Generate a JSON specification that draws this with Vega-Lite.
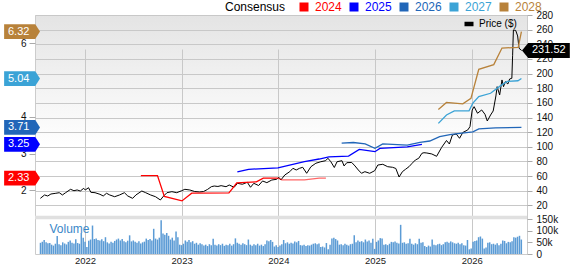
{
"$schema": "https://vega.github.io/schema/vega-lite/v6.json",
"width": 492, "height": 239,
"autosize": {"type": "none"},
"padding": {"left": 35, "top": 15, "right": 46, "bottom": 10},
"config": {
  "font": "Liberation Sans",
  "view": {"stroke": "#cccccc", "fill": {"gradient": "linear", "x1": 0, "y1": 0, "x2": 0, "y2": 1, "stops": [{"offset": 0, "color": "#e4e4e4"}, {"offset": 0.55, "color": "#ffffff"}, {"offset": 1, "color": "#ffffff"}]}},
  "axis": {"labelFont": "Liberation Sans", "labelFontSize": 10, "labelColor": "#111111", "tickColor": "#aaaaaa", "domain": false, "labelOverlap": false}
},
"datasets": {
  "price": [
{"t":2021.539,"p":29.6},{"t":2021.582,"p":34.2},{"t":2021.615,"p":32.8},{"t":2021.648,"p":35.5},{"t":2021.699,"p":36.5},{"t":2021.734,"p":37.3},{"t":2021.767,"p":34.2},{"t":2021.800,"p":37.3},{"t":2021.851,"p":41.9},{"t":2021.886,"p":40.0},{"t":2021.919,"p":41.0},{"t":2021.952,"p":39.6},{"t":2021.987,"p":43.3},{"t":2022.003,"p":41.0},{"t":2022.037,"p":44.1},{"t":2022.061,"p":37.8},{"t":2022.104,"p":37.3},{"t":2022.155,"p":35.1},{"t":2022.189,"p":32.8},{"t":2022.223,"p":36.5},{"t":2022.256,"p":34.2},{"t":2022.307,"p":31.8},{"t":2022.358,"p":34.2},{"t":2022.408,"p":37.3},{"t":2022.443,"p":32.8},{"t":2022.493,"p":29.6},{"t":2022.527,"p":34.2},{"t":2022.588,"p":39.6},{"t":2022.628,"p":37.3},{"t":2022.679,"p":34.2},{"t":2022.730,"p":31.8},{"t":2022.780,"p":27.3},{"t":2022.814,"p":32.8},{"t":2022.848,"p":37.3},{"t":2022.899,"p":38.7},{"t":2022.949,"p":37.3},{"t":2023.000,"p":40.0},{"t":2023.033,"p":41.9},{"t":2023.084,"p":41.0},{"t":2023.135,"p":38.9},{"t":2023.185,"p":38.3},{"t":2023.226,"p":38.9},{"t":2023.267,"p":41.7},{"t":2023.307,"p":45.5},{"t":2023.337,"p":46.4},{"t":2023.375,"p":45.8},{"t":2023.408,"p":46.9},{"t":2023.459,"p":45.5},{"t":2023.492,"p":47.8},{"t":2023.543,"p":44.7},{"t":2023.578,"p":50.1},{"t":2023.628,"p":48.8},{"t":2023.679,"p":51.5},{"t":2023.712,"p":44.7},{"t":2023.746,"p":50.1},{"t":2023.796,"p":47.1},{"t":2023.837,"p":53.3},{"t":2023.881,"p":51.0},{"t":2023.932,"p":54.6},{"t":2023.983,"p":55.6},{"t":2024.006,"p":58.3},{"t":2024.026,"p":54.6},{"t":2024.067,"p":61.5},{"t":2024.118,"p":66.0},{"t":2024.151,"p":70.6},{"t":2024.185,"p":68.3},{"t":2024.219,"p":70.6},{"t":2024.252,"p":72.0},{"t":2024.293,"p":63.8},{"t":2024.337,"p":72.8},{"t":2024.388,"p":77.5},{"t":2024.439,"p":79.6},{"t":2024.489,"p":81.0},{"t":2024.513,"p":84.3},{"t":2024.543,"p":79.6},{"t":2024.579,"p":71.7},{"t":2024.607,"p":79.6},{"t":2024.658,"p":81.0},{"t":2024.680,"p":73.8},{"t":2024.708,"p":78.3},{"t":2024.759,"p":78.6},{"t":2024.793,"p":73.8},{"t":2024.827,"p":68.3},{"t":2024.860,"p":63.8},{"t":2024.895,"p":66.0},{"t":2024.945,"p":63.8},{"t":2024.996,"p":67.3},{"t":2025.029,"p":75.1},{"t":2025.080,"p":76.1},{"t":2025.131,"p":72.8},{"t":2025.181,"p":72.0},{"t":2025.215,"p":70.4},{"t":2025.249,"p":58.7},{"t":2025.283,"p":66.0},{"t":2025.316,"p":69.3},{"t":2025.351,"p":72.8},{"t":2025.384,"p":77.5},{"t":2025.418,"p":82.0},{"t":2025.452,"p":84.3},{"t":2025.485,"p":91.1},{"t":2025.506,"p":91.9},{"t":2025.536,"p":91.5},{"t":2025.587,"p":90.2},{"t":2025.637,"p":87.0},{"t":2025.688,"p":99.0},{"t":2025.739,"p":108.6},{"t":2025.769,"p":103.8},{"t":2025.800,"p":116.1},{"t":2025.840,"p":117.5},{"t":2025.874,"p":111.6},{"t":2025.908,"p":119.5},{"t":2025.959,"p":123.0},{"t":2025.982,"p":127.5},{"t":2026.005,"p":150.3},{"t":2026.025,"p":154.8},{"t":2026.060,"p":145.8},{"t":2026.103,"p":150.3},{"t":2026.137,"p":144.4},{"t":2026.161,"p":135.2},{"t":2026.195,"p":143.4},{"t":2026.222,"p":148.9},{"t":2026.250,"p":169.4},{"t":2026.263,"p":182.1},{"t":2026.289,"p":170.8},{"t":2026.313,"p":191.3},{"t":2026.329,"p":182.1},{"t":2026.347,"p":188.9},{"t":2026.374,"p":185.8},{"t":2026.392,"p":192.6},{"t":2026.415,"p":193.6},{"t":2026.423,"p":225.0},{"t":2026.431,"p":259.6},{"t":2026.455,"p":258.9},{"t":2026.475,"p":251.4},{"t":2026.489,"p":234.6},{"t":2026.516,"p":231.52}
  ],
  "eps": [
{"year":"2024","t":2022.578,"e":2.40},{"year":"2024","t":2022.750,"e":2.40},{"year":"2024","t":2022.821,"e":1.83},{"year":"2024","t":2023.003,"e":1.71},{"year":"2024","t":2023.104,"e":1.92},{"year":"2024","t":2023.489,"e":1.93},{"year":"2024","t":2023.520,"e":2.03},{"year":"2024","t":2023.570,"e":2.20},{"year":"2024","t":2023.773,"e":2.23},{"year":"2024","t":2023.844,"e":2.33},{"year":"2024","t":2023.996,"e":2.33},
{"year":"2025","t":2023.576,"e":2.50},{"year":"2025","t":2023.692,"e":2.57},{"year":"2025","t":2023.996,"e":2.61},{"year":"2025","t":2024.270,"e":2.78},{"year":"2025","t":2024.422,"e":2.85},{"year":"2025","t":2024.523,"e":2.91},{"year":"2025","t":2024.726,"e":2.93},{"year":"2025","t":2024.837,"e":3.11},{"year":"2025","t":2024.999,"e":3.05},{"year":"2025","t":2025.050,"e":3.14},{"year":"2025","t":2025.333,"e":3.18},{"year":"2025","t":2025.485,"e":3.25},
{"year":"2026","t":2024.655,"e":3.28},{"year":"2026","t":2024.776,"e":3.30},{"year":"2026","t":2024.898,"e":3.26},{"year":"2026","t":2024.999,"e":3.14},{"year":"2026","t":2025.080,"e":3.26},{"year":"2026","t":2025.333,"e":3.23},{"year":"2026","t":2025.465,"e":3.30},{"year":"2026","t":2025.566,"e":3.34},{"year":"2026","t":2025.668,"e":3.46},{"year":"2026","t":2025.789,"e":3.52},{"year":"2026","t":2026.012,"e":3.59},{"year":"2026","t":2026.073,"e":3.67},{"year":"2026","t":2026.245,"e":3.70},{"year":"2026","t":2026.514,"e":3.71},
{"year":"2027","t":2025.655,"e":3.82},{"year":"2027","t":2025.739,"e":4.05},{"year":"2027","t":2025.820,"e":4.16},{"year":"2027","t":2025.972,"e":4.16},{"year":"2027","t":2026.012,"e":4.37},{"year":"2027","t":2026.073,"e":4.55},{"year":"2027","t":2026.195,"e":4.64},{"year":"2027","t":2026.296,"e":4.84},{"year":"2027","t":2026.367,"e":4.96},{"year":"2027","t":2026.478,"e":4.98},{"year":"2027","t":2026.514,"e":5.04},
{"year":"2028","t":2025.655,"e":4.20},{"year":"2028","t":2025.739,"e":4.39},{"year":"2028","t":2025.820,"e":4.37},{"year":"2028","t":2025.908,"e":4.35},{"year":"2028","t":2025.992,"e":4.50},{"year":"2028","t":2026.043,"e":5.00},{"year":"2028","t":2026.073,"e":5.29},{"year":"2028","t":2026.228,"e":5.42},{"year":"2028","t":2026.313,"e":5.87},{"year":"2028","t":2026.481,"e":5.89},{"year":"2028","t":2026.514,"e":6.32}
  ],
  "eps2024late": [
{"t":2023.996,"e":2.33},{"t":2024.037,"e":2.28},{"t":2024.270,"e":2.28},{"t":2024.422,"e":2.33},{"t":2024.492,"e":2.33}
  ],
  "callouts": [
{"year":"2028","e":6.32,"label":"6.32"},{"year":"2027","e":5.04,"label":"5.04"},{"year":"2026","e":3.71,"label":"3.71"},{"year":"2025","e":3.25,"label":"3.25"},{"year":"2024","e":2.33,"label":"2.33"}
  ],
  "vol": [
{"t":2021.540,"v":48},{"t":2021.559,"v":52},{"t":2021.578,"v":60},{"t":2021.598,"v":50},{"t":2021.617,"v":46},{"t":2021.636,"v":47},{"t":2021.655,"v":40},{"t":2021.674,"v":36},{"t":2021.694,"v":44},{"t":2021.713,"v":77},
{"t":2021.732,"v":42},{"t":2021.751,"v":38},{"t":2021.770,"v":50},{"t":2021.790,"v":45},{"t":2021.809,"v":41},{"t":2021.828,"v":52},{"t":2021.847,"v":58},{"t":2021.866,"v":48},{"t":2021.886,"v":45},{"t":2021.905,"v":63},
{"t":2021.924,"v":47},{"t":2021.943,"v":44},{"t":2021.962,"v":90},{"t":2021.982,"v":70},{"t":2022.001,"v":52},{"t":2022.020,"v":30},{"t":2022.039,"v":57},{"t":2022.058,"v":62},{"t":2022.078,"v":122},{"t":2022.097,"v":64},
{"t":2022.116,"v":66},{"t":2022.135,"v":60},{"t":2022.154,"v":58},{"t":2022.174,"v":63},{"t":2022.193,"v":55},{"t":2022.212,"v":72},{"t":2022.231,"v":50},{"t":2022.250,"v":45},{"t":2022.270,"v":52},{"t":2022.289,"v":48},
{"t":2022.308,"v":56},{"t":2022.327,"v":62},{"t":2022.346,"v":66},{"t":2022.366,"v":58},{"t":2022.385,"v":64},{"t":2022.404,"v":55},{"t":2022.423,"v":50},{"t":2022.442,"v":57},{"t":2022.462,"v":80},{"t":2022.481,"v":54},
{"t":2022.500,"v":58},{"t":2022.519,"v":52},{"t":2022.538,"v":48},{"t":2022.558,"v":55},{"t":2022.577,"v":45},{"t":2022.596,"v":50},{"t":2022.615,"v":53},{"t":2022.634,"v":66},{"t":2022.654,"v":60},{"t":2022.673,"v":64},
{"t":2022.692,"v":58},{"t":2022.711,"v":108},{"t":2022.730,"v":66},{"t":2022.750,"v":62},{"t":2022.769,"v":70},{"t":2022.788,"v":145},{"t":2022.807,"v":88},{"t":2022.826,"v":82},{"t":2022.846,"v":90},{"t":2022.865,"v":78},
{"t":2022.884,"v":62},{"t":2022.903,"v":70},{"t":2022.922,"v":58},{"t":2022.942,"v":96},{"t":2022.961,"v":72},{"t":2022.980,"v":40},{"t":2022.999,"v":38},{"t":2023.018,"v":44},{"t":2023.038,"v":58},{"t":2023.057,"v":52},
{"t":2023.076,"v":60},{"t":2023.095,"v":50},{"t":2023.114,"v":55},{"t":2023.134,"v":44},{"t":2023.153,"v":48},{"t":2023.172,"v":40},{"t":2023.191,"v":46},{"t":2023.210,"v":42},{"t":2023.230,"v":36},{"t":2023.249,"v":40},
{"t":2023.268,"v":34},{"t":2023.287,"v":42},{"t":2023.306,"v":38},{"t":2023.326,"v":65},{"t":2023.345,"v":40},{"t":2023.364,"v":36},{"t":2023.383,"v":42},{"t":2023.402,"v":38},{"t":2023.422,"v":44},{"t":2023.441,"v":35},
{"t":2023.460,"v":40},{"t":2023.479,"v":38},{"t":2023.498,"v":44},{"t":2023.518,"v":36},{"t":2023.537,"v":42},{"t":2023.556,"v":67},{"t":2023.575,"v":48},{"t":2023.594,"v":44},{"t":2023.614,"v":40},{"t":2023.633,"v":46},
{"t":2023.652,"v":42},{"t":2023.671,"v":38},{"t":2023.690,"v":62},{"t":2023.710,"v":40},{"t":2023.729,"v":35},{"t":2023.748,"v":42},{"t":2023.767,"v":38},{"t":2023.786,"v":44},{"t":2023.806,"v":36},{"t":2023.825,"v":40},
{"t":2023.844,"v":34},{"t":2023.863,"v":42},{"t":2023.882,"v":58},{"t":2023.902,"v":55},{"t":2023.921,"v":60},{"t":2023.940,"v":52},{"t":2023.959,"v":32},{"t":2023.978,"v":38},{"t":2023.998,"v":30},{"t":2024.017,"v":36},
{"t":2024.036,"v":42},{"t":2024.055,"v":60},{"t":2024.074,"v":46},{"t":2024.094,"v":50},{"t":2024.113,"v":44},{"t":2024.132,"v":48},{"t":2024.151,"v":45},{"t":2024.170,"v":54},{"t":2024.190,"v":50},{"t":2024.209,"v":56},
{"t":2024.228,"v":38},{"t":2024.247,"v":36},{"t":2024.266,"v":40},{"t":2024.286,"v":34},{"t":2024.305,"v":38},{"t":2024.324,"v":36},{"t":2024.343,"v":40},{"t":2024.362,"v":44},{"t":2024.382,"v":46},{"t":2024.401,"v":42},
{"t":2024.420,"v":45},{"t":2024.439,"v":30},{"t":2024.458,"v":32},{"t":2024.478,"v":28},{"t":2024.497,"v":47},{"t":2024.516,"v":20},{"t":2024.535,"v":40},{"t":2024.554,"v":66},{"t":2024.574,"v":70},{"t":2024.593,"v":64},
{"t":2024.612,"v":58},{"t":2024.631,"v":40},{"t":2024.650,"v":42},{"t":2024.670,"v":38},{"t":2024.689,"v":44},{"t":2024.708,"v":40},{"t":2024.727,"v":36},{"t":2024.746,"v":42},{"t":2024.766,"v":44},{"t":2024.785,"v":80},
{"t":2024.804,"v":50},{"t":2024.823,"v":58},{"t":2024.842,"v":52},{"t":2024.862,"v":55},{"t":2024.881,"v":50},{"t":2024.900,"v":62},{"t":2024.919,"v":54},{"t":2024.938,"v":58},{"t":2024.958,"v":48},{"t":2024.977,"v":65},
{"t":2024.996,"v":22},{"t":2025.015,"v":52},{"t":2025.034,"v":58},{"t":2025.054,"v":68},{"t":2025.073,"v":66},{"t":2025.092,"v":40},{"t":2025.111,"v":42},{"t":2025.130,"v":38},{"t":2025.150,"v":44},{"t":2025.169,"v":52},
{"t":2025.188,"v":50},{"t":2025.207,"v":54},{"t":2025.226,"v":48},{"t":2025.246,"v":45},{"t":2025.265,"v":125},{"t":2025.284,"v":48},{"t":2025.303,"v":50},{"t":2025.322,"v":44},{"t":2025.342,"v":46},{"t":2025.361,"v":65},
{"t":2025.380,"v":44},{"t":2025.399,"v":40},{"t":2025.418,"v":46},{"t":2025.438,"v":42},{"t":2025.457,"v":65},{"t":2025.476,"v":48},{"t":2025.495,"v":50},{"t":2025.514,"v":34},{"t":2025.534,"v":30},{"t":2025.553,"v":36},
{"t":2025.572,"v":32},{"t":2025.591,"v":62},{"t":2025.610,"v":40},{"t":2025.630,"v":38},{"t":2025.649,"v":42},{"t":2025.668,"v":44},{"t":2025.687,"v":38},{"t":2025.706,"v":42},{"t":2025.726,"v":50},{"t":2025.745,"v":52},
{"t":2025.764,"v":48},{"t":2025.783,"v":54},{"t":2025.802,"v":50},{"t":2025.822,"v":46},{"t":2025.841,"v":44},{"t":2025.860,"v":48},{"t":2025.879,"v":42},{"t":2025.898,"v":46},{"t":2025.918,"v":38},{"t":2025.937,"v":36},
{"t":2025.956,"v":60},{"t":2025.975,"v":20},{"t":2025.994,"v":24},{"t":2026.014,"v":52},{"t":2026.033,"v":56},{"t":2026.052,"v":58},{"t":2026.071,"v":72},{"t":2026.090,"v":75},{"t":2026.110,"v":66},{"t":2026.129,"v":24},
{"t":2026.148,"v":28},{"t":2026.167,"v":48},{"t":2026.186,"v":50},{"t":2026.206,"v":42},{"t":2026.225,"v":44},{"t":2026.244,"v":40},{"t":2026.263,"v":46},{"t":2026.282,"v":38},{"t":2026.302,"v":44},{"t":2026.321,"v":58},
{"t":2026.340,"v":56},{"t":2026.359,"v":46},{"t":2026.378,"v":52},{"t":2026.398,"v":50},{"t":2026.417,"v":55},{"t":2026.436,"v":72},{"t":2026.455,"v":70},{"t":2026.474,"v":74},{"t":2026.494,"v":78},{"t":2026.513,"v":62}
  ]
},
"layer": [
  {
    "layer": [
      {
        "data": {"name": "price"},
        "mark": {"type": "line", "strokeWidth": 1},
        "encoding": {
          "x": {"field": "t", "type": "quantitative", "scale": {"domain": [2021.535, 2026.52], "nice": false, "zero": false},
                "axis": {"values": [2022, 2023, 2024, 2025, 2026], "tickCount": 20, "format": "d", "grid": true, "gridColor": "#c8c8c8", "ticks": false, "labelPadding": 1, "labelFontSize": 9.5, "title": null, "labelColor": "#222222", "labelOverlap": false}},
          "y": {"field": "p", "type": "quantitative", "scale": {"domain": [0, 280], "range": [205, 0], "nice": false},
                "axis": {"orient": "right", "values": [20, 40, 60, 80, 100, 120, 140, 160, 180, 200, 220, 240, 260, 280], "tickCount": 30, "labelOverlap": false, "grid": true, "gridColor": "#c8c8c8", "tickSize": 5, "labelPadding": 4, "title": null}},
          "stroke": {"datum": "Price ($)", "type": "nominal", "scale": {"range": ["#000000"]},
                "legend": {"orient": "none", "legendX": 429, "legendY": 4, "title": null, "symbolType": "M -1 -0.5 L 1 -0.5 L 1 0.5 L -1 0.5 Z", "symbolSize": 81, "symbolFillColor": "#000000", "symbolStrokeWidth": 0, "labelFontSize": 10, "labelColor": "#000000", "labelOffset": 5}}
        }
      },
      {
        "data": {"values": [{}]},
        "mark": {"type": "rule", "color": "#e0e0e0", "strokeWidth": 3.5},
        "encoding": {"y": {"datum": 3.4}}
      },
      {
        "data": {"values": [{"t": 2026.52, "p": 231.52, "label": "231.52"}]},
        "mark": {"type": "point", "shape": "M 0 0 L 0.35 -0.42 L 2.7 -0.42 L 2.7 0.42 L 0.35 0.42 Z", "size": 1253, "filled": true, "color": "#000000", "opacity": 1, "strokeWidth": 0},
        "encoding": {"x": {"field": "t", "type": "quantitative"}, "y": {"field": "p", "type": "quantitative"}}
      },
      {
        "data": {"values": [{"t": 2026.52, "p": 231.52, "label": "231.52"}]},
        "mark": {"type": "text", "align": "left", "baseline": "middle", "dx": 10, "fontSize": 11, "color": "#ffffff"},
        "encoding": {"x": {"field": "t", "type": "quantitative"}, "y": {"field": "p", "type": "quantitative"}, "text": {"field": "label"}}
      }
    ]
  },
  {
    "layer": [
      {
        "data": {"name": "eps2024late"},
        "mark": {"type": "line", "strokeWidth": 1.3, "color": "#ff0000", "opacity": 0.6},
        "encoding": {
          "x": {"field": "t", "type": "quantitative"},
          "y": {"field": "e", "type": "quantitative"}
        }
      },
      {
        "data": {"name": "eps"},
        "mark": {"type": "line", "strokeWidth": 1.3},
        "encoding": {
          "x": {"field": "t", "type": "quantitative"},
          "y": {"field": "e", "type": "quantitative", "scale": {"domain": [1.19, 6.77], "range": [205, 0], "nice": false, "zero": false},
                "axis": {"orient": "left", "values": [2, 3, 4, 6], "labelOverlap": false, "grid": false, "tickSize": 6, "labelPadding": 3, "title": null}},
          "color": {"field": "year", "type": "nominal",
                "scale": {"domain": ["2024", "2025", "2026", "2027", "2028"], "range": ["#ff0000", "#0000ff", "#2166b8", "#3ba3d6", "#b8823a"]},
                "legend": {"orient": "none", "legendX": 190, "legendY": -14, "direction": "horizontal", "title": "Consensus", "titleOrient": "left", "titleFontSize": 12, "titleFontWeight": "normal", "titleColor": "#000000", "titlePadding": 12, "labelFontSize": 12, "symbolType": "square", "symbolSize": 81, "symbolStrokeWidth": 0, "labelOffset": 5, "columnPadding": 6,
                  "encode": {"labels": {"update": {"fill": {"scale": "color", "field": "value"}}}, "symbols": {"update": {"fill": {"scale": "color", "field": "value"}, "fillOpacity": {"value": 1}}}}}}
        }
      },
      {
        "data": {"name": "callouts"},
        "mark": {"type": "point", "shape": "M 0 0 L -0.27 -0.42 L -2.05 -0.42 L -2.05 0.42 L -0.27 0.42 Z", "size": 1225, "filled": true, "opacity": 1, "strokeWidth": 0},
        "encoding": {
          "x": {"datum": 2021.535},
          "y": {"field": "e", "type": "quantitative"},
          "fill": {"field": "year", "type": "nominal", "scale": {"domain": ["2024", "2025", "2026", "2027", "2028"], "range": ["#ff0000", "#0000ff", "#2166b8", "#3ba3d6", "#b8823a"]}, "legend": null}
        }
      },
      {
        "data": {"name": "callouts"},
        "mark": {"type": "text", "align": "left", "baseline": "middle", "dx": -32, "fontSize": 11, "color": "#ffffff"},
        "encoding": {"x": {"datum": 2021.535}, "y": {"field": "e", "type": "quantitative"}, "text": {"field": "label"}}
      }
    ]
  },
  {
    "layer": [
      {
        "data": {"name": "vol"},
        "mark": {"type": "bar", "width": 1.5, "color": "#5b9bd5"},
        "encoding": {
          "x": {"field": "t", "type": "quantitative"},
          "y": {"field": "v", "type": "quantitative", "scale": {"domain": [0, 150], "range": [239, 204], "nice": false},
                "axis": {"orient": "right", "values": [0, 50, 100, 150], "tickCount": 10, "labelOverlap": false, "labelExpr": "datum.value == 0 ? '0' : datum.value + 'k'", "grid": false, "tickSize": 5, "labelPadding": 4, "title": null}}
        }
      },
      {
        "data": {"values": [{"t": 2021.633, "v": 107, "label": "Volume"}]},
        "mark": {"type": "text", "align": "left", "baseline": "middle", "fontSize": 12, "color": "#3a87c8"},
        "encoding": {"x": {"field": "t", "type": "quantitative"}, "y": {"field": "v", "type": "quantitative"}, "text": {"field": "label"}}
      }
    ]
  }
],
"resolve": {"scale": {"y": "independent"}}
}
